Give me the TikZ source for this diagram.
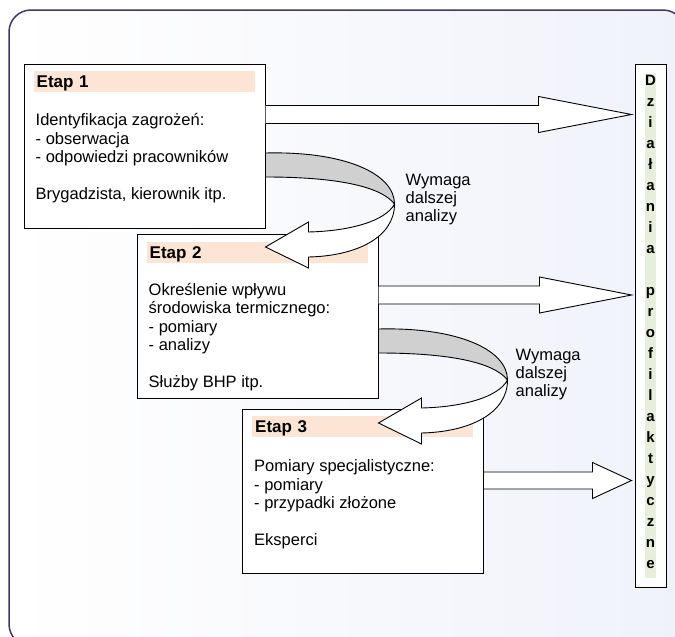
\documentclass[tikz,border=0pt]{standalone}
\usepackage{fontspec}
\setmainfont{Liberation Sans}
\definecolor{ramkagranat}{RGB}{62,56,104}
\definecolor{naglowekbrzoskw}{RGB}{252,229,212}
\definecolor{kolumnazielen}{RGB}{230,238,220}
\definecolor{wstegaszara}{RGB}{208,208,208}
\definecolor{tlojasne}{RGB}{240,242,250}
\usetikzlibrary{positioning,calc}

\tikzset{
  etap/.style={draw=black, line width=1pt, fill=white, minimum width=241pt, minimum height=164pt, inner sep=0pt},
  naglowek/.style={fill=naglowekbrzoskw, anchor=north west, minimum width=221pt, minimum height=21pt, text width=215pt,
    inner xsep=3pt, inner ysep=0pt, text depth=0pt, align=left, font=\fontsize{17}{18}\selectfont\bfseries},
  opis/.style={anchor=north west, inner sep=0pt, align=left, font=\fontsize{16.5}{18.5}\selectfont},
  etykieta/.style={anchor=north west, inner sep=0pt, align=left, font=\fontsize{16.5}{18}\selectfont},
  blok/.style={draw=black, line width=0.9pt, fill=white, line join=miter},
  % wstega: szara czesc od boksu, biala ze strzalka w lewo
  zawrot/.pic={
    \draw[line width=0.9pt, fill=wstegaszara] (0,7) .. controls (80,5) and (129,28) .. (129,58)
      .. controls (115,40) and (70,31) .. (0,31) -- cycle;
    \draw[blok] (129,58) .. controls (129,92) and (90,110) .. (43,111) -- (43,122) -- (0,101) -- (43,76) -- (43,86)
      .. controls (85,85) and (120,75) .. (129,58) -- cycle;
  }
}

\begin{document}
\begin{tikzpicture}[x=1pt,y=-1pt]
\useasboundingbox (0,0) rectangle (675,637);
\draw[draw=ramkagranat, line width=1.5pt, left color=white, right color=tlojasne, rounded corners=22pt] (9,10) rectangle (685,646);

% etapy
\node[etap] (etap1) at (144.5,146) {};
\node[naglowek] (nag1) at ($(etap1.north west)+(10,7)$) {Etap 1};
\node[opis] (opis1) at ($(etap1.north west)+(12,50)$) {Identyfikacja zagrożeń:\\- obserwacja\\- odpowiedzi pracowników\\[18.5pt]Brygadzista, kierownik itp.};

\node[etap] (etap2) at (257.5,316.5) {};
\node[naglowek] (nag2) at ($(etap2.north west)+(10,8)$) {Etap 2};
\node[opis] (opis2) at ($(etap2.north west)+(12,49)$) {Określenie wpływu\\środowiska termicznego:\\- pomiary\\- analizy\\[18.5pt]Służby BHP itp.};

\node[etap] (etap3) at (363,491) {};
\node[naglowek] (nag3) at ($(etap3.north west)+(10,7)$) {Etap 3};
\node[opis] (opis3) at ($(etap3.north west)+(12,51)$) {Pomiary specjalistyczne:\\- pomiary\\- przypadki złożone\\[18.5pt]Eksperci};

% kolumna po prawej
\node[draw=black, line width=1pt, fill=white, minimum width=31pt, minimum height=523pt, inner sep=0pt] (dzialania) at (650.5,325.5) {};
\node[fill=kolumnazielen, minimum width=11pt, minimum height=504pt, inner sep=0pt] (dzpas) at (dzialania.center) {};
\node[anchor=north, inner sep=0pt, align=center, font=\fontsize{15}{21}\selectfont\bfseries] (dzlitery) at ($(dzialania.north)+(0,11.5)$)
  {D\\z\\i\\a\\ł\\a\\n\\i\\a\\[21pt]p\\r\\o\\f\\i\\l\\a\\k\\t\\y\\c\\z\\n\\e};

% strzalki do kolumny
\coordinate (a1) at ($(etap1.north east)+(0,51)$);
\coordinate (t1) at ($(dzialania.west |- a1)+(-3,0)$);
\draw[blok] ($(a1)+(0,-9)$) -| ($(t1)+(-93,-18)$) -- (t1) -- ($(t1)+(-93,18)$) |- ($(a1)+(0,9)$);
\coordinate (a2) at ($(etap2.north east)+(0,61)$);
\coordinate (t2) at ($(dzialania.west |- a2)+(-3,0)$);
\draw[blok] ($(a2)+(0,-9)$) -| ($(t2)+(-92,-18)$) -- (t2) -- ($(t2)+(-92,18)$) |- ($(a2)+(0,9)$);
\coordinate (a3) at ($(etap3.north east)+(0,72)$);
\coordinate (t3) at ($(dzialania.west |- a3)+(-3,0)$);
\draw[blok] ($(a3)+(0,-8.5)$) -| ($(t3)+(-39,-18)$) -- (t3) -- ($(t3)+(-39,18)$) |- ($(a3)+(0,8.5)$);

% zawrocenia
\pic at (etap1.east) {zawrot};
\pic at ($(etap2.east)+(0,5.5)$) {zawrot};
\node[etykieta] (uwaga1) at ($(etap1.east)+(140,28)$) {Wymaga\\dalszej\\analizy};
\node[etykieta] (uwaga2) at ($(etap2.east)+(137,32.5)$) {Wymaga\\dalszej\\analizy};
\end{tikzpicture}
\end{document}
